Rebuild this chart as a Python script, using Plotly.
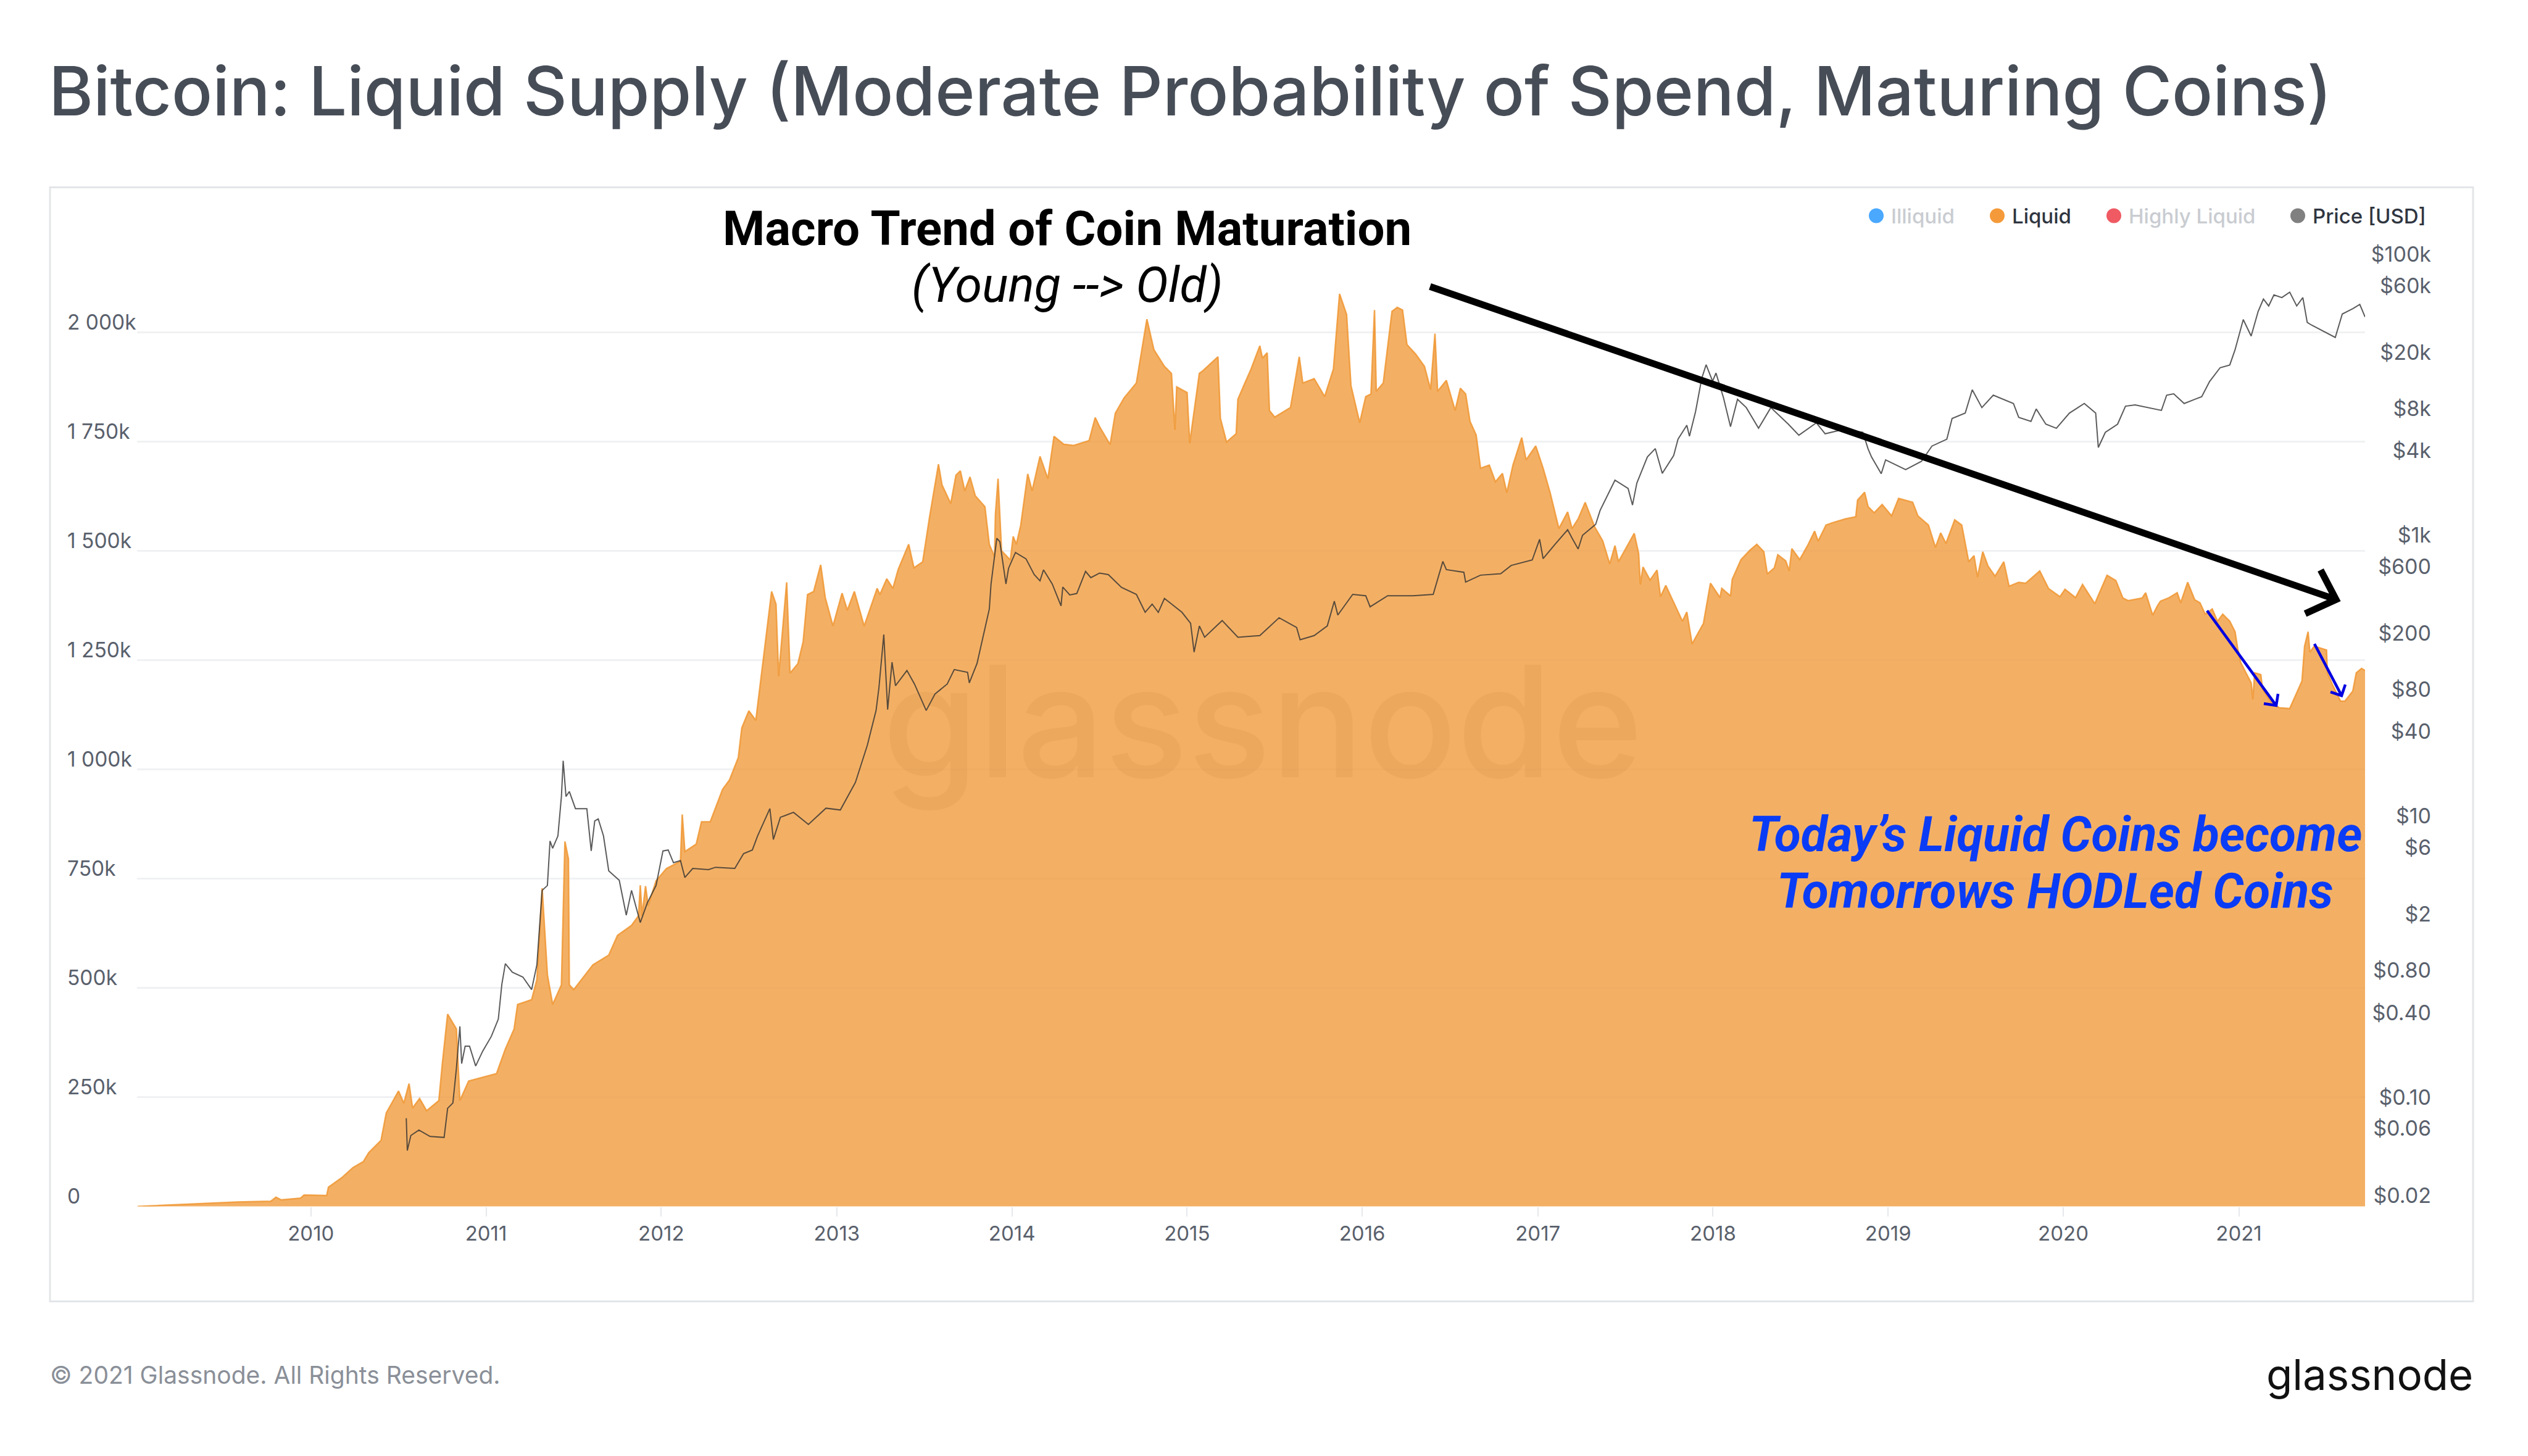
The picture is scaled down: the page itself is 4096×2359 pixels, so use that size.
import numpy as np
import pandas as pd
import plotly.graph_objects as go

W = 4096
H = 2359

# values, x as decimal years
liquid_year = [2009.01, 2009.58, 2009.77, 2009.80, 2009.83, 2009.94, 2009.96, 2010.09,
    2010.10, 2010.18, 2010.24, 2010.30, 2010.33, 2010.40, 2010.43, 2010.47, 2010.50, 2010.53, 2010.56, 2010.58,
    2010.62, 2010.66, 2010.73, 2010.75, 2010.78, 2010.83, 2010.85, 2010.90, 2010.96, 2011.06, 2011.11, 2011.16,
    2011.18, 2011.26, 2011.29, 2011.32, 2011.35, 2011.38, 2011.43, 2011.45, 2011.47, 2011.475, 2011.50, 2011.61,
    2011.70, 2011.75, 2011.83, 2011.87, 2011.88, 2011.89, 2011.91, 2011.925, 2011.97, 2012.03, 2012.11, 2012.12,
    2012.135, 2012.20, 2012.23, 2012.28, 2012.35, 2012.39, 2012.44, 2012.46, 2012.50, 2012.54,
    2012.63, 2012.655, 2012.67, 2012.716, 2012.735, 2012.78, 2012.81, 2012.835, 2012.87, 2012.91, 2012.936,
    2012.98, 2013.03, 2013.06, 2013.10, 2013.156, 2013.23, 2013.246, 2013.285, 2013.32, 2013.35, 2013.41,
    2013.44, 2013.49, 2013.53, 2013.58, 2013.60, 2013.65, 2013.68, 2013.705, 2013.73, 2013.76, 2013.79,
    2013.845, 2013.87, 2013.90, 2013.905, 2013.92, 2013.94, 2013.99, 2014.007, 2014.025, 2014.05, 2014.09,
    2014.115, 2014.16, 2014.205, 2014.24, 2014.295, 2014.35, 2014.44, 2014.475, 2014.50,
    2014.56, 2014.59, 2014.64, 2014.71, 2014.77, 2014.81, 2014.87, 2014.91, 2014.93, 2014.94, 2015.0, 2015.015,
    2015.04, 2015.07, 2015.09, 2015.176, 2015.19, 2015.225, 2015.28, 2015.29, 2015.33, 2015.365, 2015.415,
    2015.43, 2015.457, 2015.47, 2015.50, 2015.59, 2015.62, 2015.64, 2015.66, 2015.725, 2015.785, 2015.835,
    2015.87, 2015.91, 2015.935, 2015.985, 2016.02, 2016.05, 2016.07, 2016.08, 2016.12, 2016.17, 2016.20, 2016.23,
    2016.255, 2016.305, 2016.355, 2016.39, 2016.415, 2016.43, 2016.48, 2016.53, 2016.56, 2016.59, 2016.615,
    2016.65, 2016.675, 2016.725, 2016.76, 2016.80, 2016.825, 2016.86, 2016.91, 2016.935, 2016.99, 2017.03,
    2017.07, 2017.12, 2017.17, 2017.195, 2017.23, 2017.27, 2017.325, 2017.37,
    2017.41, 2017.44, 2017.46, 2017.55, 2017.575, 2017.585, 2017.60, 2017.64, 2017.68, 2017.70, 2017.73, 2017.77,
    2017.825, 2017.85, 2017.88, 2017.945, 2017.985, 2018.04, 2018.05, 2018.10, 2018.11, 2018.16, 2018.21, 2018.25,
    2018.29, 2018.31, 2018.35, 2018.37, 2018.415, 2018.435, 2018.45, 2018.495, 2018.54, 2018.58, 2018.60,
    2018.645, 2018.68, 2018.755, 2018.815, 2018.825, 2018.865, 2018.885, 2018.92, 2018.965, 2019.02, 2019.06,
    2019.14, 2019.17, 2019.23, 2019.27, 2019.30, 2019.33, 2019.38, 2019.42, 2019.44, 2019.46, 2019.49, 2019.51,
    2019.54, 2019.57, 2019.61, 2019.66, 2019.69, 2019.745, 2019.785, 2019.865, 2019.915, 2019.98, 2020.01,
    2020.07, 2020.11, 2020.18,
    2020.197, 2020.25, 2020.30, 2020.34, 2020.37, 2020.45, 2020.47, 2020.51, 2020.54, 2020.555, 2020.60, 2020.65,
    2020.67, 2020.71, 2020.75, 2020.78, 2020.81, 2020.85, 2020.88, 2020.91, 2020.95, 2020.98, 2020.995, 2021.01,
    2021.04, 2021.07, 2021.08, 2021.09, 2021.125, 2021.135, 2021.18, 2021.23, 2021.29, 2021.32, 2021.36, 2021.375,
    2021.395, 2021.405, 2021.43, 2021.50, 2021.505, 2021.535, 2021.58, 2021.605, 2021.65, 2021.67, 2021.70, 2021.72]
liquid_k = [0, 10, 12, 21, 15, 19, 26, 25,
    44, 67, 89, 103, 123, 151, 214, 242, 264, 236, 281, 225,
    247, 219, 242, 327, 440, 406, 242, 287, 293, 304, 360, 406,
    462, 473, 519, 728, 530, 462, 507, 835, 795, 507, 496, 553,
    575, 620, 643, 665, 735, 665, 733, 688, 745, 773, 790, 897,
    812, 829, 880, 880, 954, 976, 1027, 1095, 1134, 1112,
    1407, 1378, 1213, 1428, 1220, 1242, 1292, 1400, 1407, 1468, 1393,
    1328, 1403, 1364, 1407, 1328, 1414, 1400, 1436, 1414, 1457, 1515,
    1461, 1475, 1579, 1698, 1651, 1608, 1673, 1683, 1637, 1669, 1626,
    1601, 1515, 1486, 1583, 1665, 1500, 1479, 1533, 1515, 1558, 1676,
    1637, 1716, 1665, 1762, 1744, 1741, 1752, 1805, 1784,
    1743, 1815, 1850, 1884, 2030, 1960, 1922, 1906, 1777, 1875, 1862, 1746,
    1821, 1906, 1912, 1944, 1803, 1749, 1768, 1847, 1884, 1916, 1969,
    1941, 1953, 1821, 1806, 1828, 1897, 1944, 1884, 1894, 1853, 1916,
    2088, 2041, 1878, 1793, 1853, 1859, 2051, 1865, 1884, 2048, 2057, 2051,
    1972, 1950, 1922, 1869, 1997, 1865, 1890, 1821, 1872, 1859, 1796,
    1765, 1689, 1696, 1658, 1677, 1633, 1696, 1759, 1708, 1740, 1689,
    1633, 1551, 1589, 1551, 1573, 1611, 1554, 1523,
    1470, 1512, 1475, 1540, 1494, 1423, 1463, 1433, 1456, 1395, 1421, 1386,
    1339, 1360, 1287, 1334, 1426, 1393, 1414, 1397, 1435, 1480, 1501, 1515,
    1498, 1447, 1461, 1491, 1477, 1454, 1505, 1480, 1512, 1545, 1522,
    1559, 1564, 1573, 1578, 1616, 1634, 1601, 1587, 1606, 1580, 1620,
    1611, 1580, 1559, 1508, 1541, 1517, 1571, 1559, 1517, 1475, 1489, 1440,
    1498, 1465, 1442, 1475, 1419, 1428, 1426, 1454, 1414, 1395, 1412,
    1393, 1423, 1379,
    1395, 1444, 1432, 1392, 1386, 1392, 1404, 1353, 1376, 1385, 1392, 1404,
    1381, 1428, 1388, 1381, 1355, 1367, 1339, 1355, 1339, 1315, 1277, 1245,
    1221, 1198, 1160, 1221, 1217, 1184, 1156, 1141, 1139, 1165, 1202, 1282,
    1315, 1268, 1282, 1273, 1221, 1193, 1156, 1156, 1179, 1221, 1231, 1226]

price_year = [2010.544, 2010.55, 2010.57, 2010.616, 2010.68, 2010.76, 2010.78, 2010.81, 2010.83, 2010.85, 2010.86,
    2010.88, 2010.905, 2010.94, 2010.98, 2011.03, 2011.07, 2011.09, 2011.11, 2011.15, 2011.21, 2011.26, 2011.29,
    2011.32, 2011.35, 2011.365, 2011.38, 2011.41, 2011.43, 2011.44, 2011.456, 2011.475, 2011.51, 2011.575, 2011.60,
    2011.62, 2011.64, 2011.67, 2011.70, 2011.76, 2011.80, 2011.83, 2011.88, 2011.92, 2011.97, 2012.01, 2012.04,
    2012.07, 2012.11, 2012.135, 2012.18, 2012.27, 2012.31, 2012.42, 2012.47, 2012.52, 2012.55, 2012.62, 2012.64,
    2012.68, 2012.755, 2012.84, 2012.94, 2013.02, 2013.106, 2013.174, 2013.224, 2013.24, 2013.268, 2013.29, 2013.315,
    2013.335, 2013.40, 2013.443, 2013.51, 2013.56, 2013.63, 2013.67, 2013.746, 2013.756, 2013.80, 2013.83,
    2013.87, 2013.88, 2013.90, 2013.913, 2013.93, 2013.945, 2013.965, 2013.98, 2014.02, 2014.08, 2014.127, 2014.16,
    2014.18, 2014.23, 2014.28, 2014.29, 2014.33, 2014.37, 2014.42, 2014.45, 2014.50, 2014.55,
    2014.625, 2014.71, 2014.76, 2014.80, 2014.835, 2014.87, 2014.97, 2015.02, 2015.04, 2015.07, 2015.10, 2015.2,
    2015.29, 2015.415, 2015.525, 2015.625, 2015.645, 2015.725, 2015.80, 2015.84, 2015.86, 2015.945, 2016.02,
    2016.045, 2016.145, 2016.29, 2016.405, 2016.46, 2016.48, 2016.58, 2016.59, 2016.675, 2016.79, 2016.85, 2016.97,
    2017.01, 2017.03, 2017.095, 2017.17, 2017.195, 2017.23, 2017.255, 2017.33, 2017.355, 2017.40, 2017.44, 2017.515,
    2017.54, 2017.565, 2017.625, 2017.67, 2017.71, 2017.775, 2017.80, 2017.85, 2017.865, 2017.90, 2017.935, 2017.96,
    2017.997, 2018.017, 2018.06, 2018.10, 2018.14, 2018.19, 2018.26, 2018.33, 2018.43, 2018.49, 2018.59, 2018.64,
    2018.74, 2018.855, 2018.885, 2018.905, 2018.96, 2018.985, 2019.10, 2019.19, 2019.25, 2019.335, 2019.365, 2019.44,
    2019.48, 2019.535, 2019.60, 2019.715, 2019.745, 2019.815, 2019.845, 2019.90, 2019.96, 2020.035, 2020.12, 2020.185,
    2020.20, 2020.24, 2020.31, 2020.355, 2020.41, 2020.56, 2020.59, 2020.63, 2020.69, 2020.79, 2020.835, 2020.895,
    2020.95, 2020.98, 2021.025, 2021.07, 2021.11, 2021.14, 2021.17, 2021.20, 2021.245, 2021.29, 2021.33, 2021.365,
    2021.39, 2021.415, 2021.475, 2021.55, 2021.59, 2021.65, 2021.69, 2021.72]
price_usd = [0.085, 0.05, 0.064, 0.07, 0.063, 0.062, 0.10, 0.109, 0.192, 0.383, 0.208,
    0.277, 0.277, 0.2, 0.255, 0.325, 0.432, 0.762, 1.07, 0.93, 0.86, 0.70, 1.05,
    3.56, 3.86, 8.0, 7.1, 8.7, 16.6, 29.8, 16.6, 18, 13.6, 13.6, 6.8,
    11.1, 11.5, 8.7, 4.9, 4.2, 2.37, 3.56, 2.1, 2.9, 3.86, 6.8, 6.9,
    5.6, 5.8, 4.4, 5.1, 5.0, 5.2, 5.1, 6.5, 6.9, 8.7, 13.6, 8.2,
    11.8, 12.8, 10.5, 13.7, 13.3, 20.9, 38.4, 68, 98, 236, 69, 150,
    102, 131, 105, 68, 89, 105, 133, 127, 107, 147, 213,
    358, 541, 861, 1143, 1084, 817, 541, 700, 906, 817, 631, 569,
    682, 541, 378, 514, 452, 463, 665, 600, 647, 631,
    511, 456, 340, 389, 340, 427, 340, 284, 177, 272, 226, 297,
    226, 232, 311, 265, 217, 232, 272, 408, 325, 456, 446,
    372, 446, 446, 456, 783, 684, 655, 558, 625, 640, 733, 802,
    1125, 820, 1026, 1315, 1148, 960, 1202, 1439, 1803, 2366, 2965, 2588,
    1972, 2831, 4345, 4977, 3319, 4446, 5821, 7295, 6095, 9141, 15700, 19680,
    15030, 17180, 11450, 7130, 11170, 9750, 6950, 9750, 7430, 6200, 7600, 6350,
    6790, 6500, 4950, 4330, 3300, 4140, 3530, 4040, 5190, 5810, 8150, 8910,
    13060, 9750, 11950, 10430, 8310, 7780, 9530, 7430, 6950, 8910, 10430, 8910,
    5070, 6500, 7430, 9980, 10200, 9310, 11950, 12220, 10430, 11670, 14960, 18750,
    19600, 25100, 41300, 31500, 47200, 57800, 51600, 61900, 59200, 64700, 51600, 59200,
    39400, 37700, 34400, 30800, 45200, 49400, 52900, 43100]

left_tick_k = [0, 250, 500, 750, 1000, 1250, 1500, 1750, 2000, 2250]
left_tick_text = ["0", "250k", "500k", "750k", "1 000k", "1 250k", "1 500k", "1 750k", "2 000k", ""]
price_tick_usd = [100000, 60000, 20000, 8000, 4000, 1000, 600, 200, 80, 40, 10, 6, 2, 0.8, 0.4, 0.1, 0.06, 0.02]
price_tick_text = ["$100k", "$60k", "$20k", "$8k", "$4k", "$1k", "$600", "$200", "$80", "$40", "$10", "$6", "$2",
    "$0.80", "$0.40", "$0.10", "$0.06", "$0.02"]

legend_names = ["Illiquid", "Liquid", "Highly Liquid", "Price [USD]"]
legend_dots = ["#4aa8ff", "#f59a3a", "#ef5a63", "#808080"]
legend_text = ["#c9ccd1", "#2f3540", "#c9ccd1", "#2f3540"]


def to_dates(years):
    out = []
    for y in years:
        whole = int(y)
        out.append(pd.Timestamp(year=whole, month=1, day=1) + pd.Timedelta(days=(y - whole) * 365.25))
    return out


def fx(x):
    return x / W


def fy(y):
    return 1 - y / H


def arrow_path(x0, y0, x1, y1, bx0, by0, bx1, by1):
    return (f"M{fx(x0)},{fy(y0)} L{fx(x1)},{fy(y1)} M{fx(bx0)},{fy(by0)} L{fx(x1)},{fy(y1)} L{fx(bx1)},{fy(by1)}")


fig = go.Figure()
fig.add_trace(go.Scatter(x=to_dates(liquid_year), y=liquid_k, name="Liquid", mode="lines",
    line=dict(color="rgba(240,150,50,0.85)", width=2.5), fill="tozeroy", fillcolor="rgba(238,142,35,0.7)",
    showlegend=False))
fig.add_trace(go.Scatter(x=to_dates(price_year), y=price_usd, name="Price [USD]", mode="lines", yaxis="y2",
    line=dict(color="rgba(50,50,50,0.8)", width=2), showlegend=False))

left_font = dict(family="Inter", size=33.5, color="#59606c")
right_font = dict(family="Inter", size=34, color="#59606c")
fig.update_layout(
    width=W, height=H, margin=dict(l=0, r=0, t=0, b=0), paper_bgcolor="white", plot_bgcolor="white",
    font=dict(family="Inter"), showlegend=False,
    title=dict(text="Bitcoin: Liquid Supply (Moderate Probability of Spend, Maturing Coins)",
        x=fx(79), xanchor="left", y=fy(149), yanchor="middle",
        font=dict(family="Inter", size=109.6, color="#474d57", weight=500)),
    xaxis=dict(domain=[fx(222), fx(3832)], type="date",
        range=[to_dates([2009.007])[0], to_dates([2021.72])[0]], dtick="M12", tick0="2010-01-01", tickformat="%Y",
        showgrid=False, zeroline=False, showline=False, ticks="outside", ticklen=15, tickwidth=2, tickcolor="#e6e8eb",
        tickfont=dict(family="Inter", size=33, color="#59606c")),
    yaxis=dict(domain=[fy(1958), fy(362)], range=[0, 2250], anchor="free", position=fx(108), side="right",
        tickmode="array", tickvals=left_tick_k, ticktext=left_tick_text, showgrid=True, gridcolor="#f0f1f3", gridwidth=3,
        zeroline=False, showline=False, ticks="", tickfont=left_font, ticklabelshift=-16),
    yaxis2=dict(domain=[fy(1958), fy(362)], type="log", range=[np.log10(0.02), 5.303], overlaying="y", anchor="free",
        position=fx(3939), side="left", tickmode="array", tickvals=price_tick_usd, ticktext=price_tick_text,
        showgrid=False, zeroline=False, showline=False, ticks="", tickfont=right_font, ticklabelshift=-18),
)

shapes = [dict(type="rect", xref="paper", yref="paper", x0=fx(81), x1=fx(4007), y0=fy(2112), y1=fy(304),
    line=dict(color="#e3e5e8", width=3), layer="below")]
shapes.append(dict(type="path", xref="paper", yref="paper", path=arrow_path(2317, 465, 3785, 973, 3760, 925, 3735, 996),
    line=dict(color="black", width=11)))
shapes.append(dict(type="path", xref="paper", yref="paper", path=arrow_path(3576, 991, 3688, 1145, 3691, 1126, 3668, 1142),
    line=dict(color="#0000e0", width=4.5)))
shapes.append(dict(type="path", xref="paper", yref="paper", path=arrow_path(3750, 1045, 3794, 1129, 3800, 1111, 3776, 1123),
    line=dict(color="#0000e0", width=4.5)))

notes = [
    dict(text="Macro Trend of Coin Maturation", x=fx(1729), y=fy(371), xanchor="center", yanchor="middle",
        font=dict(family="Roboto", size=78, color="black", weight=700)),
    dict(text="(Young --> Old)", x=fx(1729), y=fy(463), xanchor="center", yanchor="middle",
        font=dict(family="Roboto", size=79, color="black", style="italic")),
    dict(text="Today’s Liquid Coins become", x=fx(3330), y=fy(1354), xanchor="center", yanchor="middle",
        font=dict(family="Roboto", size=78.7, color="#0a3cf5", weight=700, style="italic")),
    dict(text="Tomorrows HODLed Coins", x=fx(3330), y=fy(1446), xanchor="center", yanchor="middle",
        font=dict(family="Roboto", size=78.7, color="#0a3cf5", weight=700, style="italic")),
    dict(text="glassnode", x=fx(2046), y=fy(1170), xanchor="center", yanchor="middle",
        font=dict(family="Inter", size=250, color="rgba(170,100,30,0.09)", weight=500)),
    dict(text="© 2021 Glassnode. All Rights Reserved.", x=fx(79), y=fy(2231), xanchor="left", yanchor="middle",
        font=dict(family="Inter", size=39, color="#8a8f98")),
    dict(text="glassnode", x=fx(4009), y=fy(2231), xanchor="right", yanchor="middle",
        font=dict(family="Inter", size=69, color="#111111")),
]

# legend drawn by hand because two of its entries have no series on the chart
legend_dot_x = [3040, 3236, 3425, 3723]
for name, dot, col, x in zip(legend_names, legend_dots, legend_text, legend_dot_x):
    shapes.append(dict(type="circle", xref="paper", yref="paper", x0=fx(x - 12), x1=fx(x + 12), y0=fy(362), y1=fy(338),
        fillcolor=dot, line=dict(width=0)))
    notes.append(dict(text=name, x=fx(x + 22), y=fy(351), xanchor="left", yanchor="middle",
        font=dict(family="Inter", size=33, color=col, weight=500)))

for n in notes:
    n.update(xref="paper", yref="paper", showarrow=False)
fig.update_layout(shapes=shapes, annotations=notes)

fig.write_html("out.html", config=dict(displayModeBar=False), post_script="document.body.style.margin='0';")
